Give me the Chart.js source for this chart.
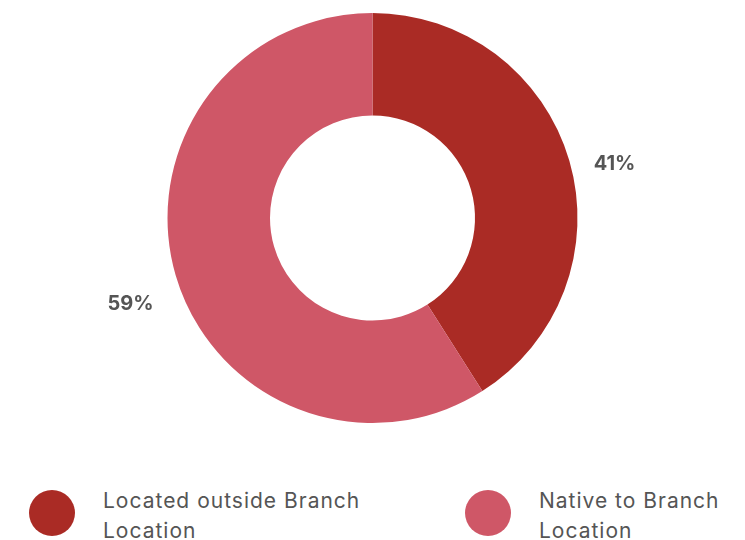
<!DOCTYPE html>
<html lang="en">
<head>
    <meta charset="UTF-8">
    <title>Branch Location</title>
    <script src="https://cdn.jsdelivr.net/npm/chart.js"></script>
    <style>
        body {
            margin: 0;
            width: 745px;
            height: 540px;
            background: #fff;
            font-family: Inter, sans-serif;
            position: relative;
            overflow: hidden;
        }
        #chartBox {
            position: absolute;
            left: 0;
            top: 0;
            width: 745px;
            height: 436px;
        }
        .legend-item {
            position: absolute;
            top: 488px;
            display: flex;
            align-items: flex-start;
        }
        .legend-dot {
            width: 46px;
            height: 46px;
            border-radius: 50%;
            margin-top: 2px;
        }
        .legend-text {
            color: #555;
            font-size: 21px;
            letter-spacing: 1px;
            line-height: 30px;
            margin-left: 28px;
            margin-top: -2px;
        }
    </style>
</head>
<body>
    <div id="chartBox"><canvas id="pieChart"></canvas></div>
    <div id="legend"></div>

    <script>
        const categories = ['Located outside Branch Location', 'Native to Branch Location'];
        const legendLines = [['Located outside Branch', 'Location'], ['Native to Branch', 'Location']];
        const shares = [41, 59];
        const colors = ['#AA2B25', '#CF5767'];
        const legendX = [29, 465];

        // percent labels outside each slice
        const outsideLabels = {
            id: 'outsideLabels',
            afterDatasetsDraw(chart) {
                const ctx = chart.ctx;
                const meta = chart.getDatasetMeta(0);
                ctx.save();
                ctx.font = 'bold 20px Inter, sans-serif';
                ctx.fillStyle = '#555';
                ctx.textAlign = 'center';
                ctx.textBaseline = 'middle';
                meta.data.forEach((arc, i) => {
                    const p = arc.getProps(['x', 'y', 'startAngle', 'endAngle', 'outerRadius'], true);
                    const mid = (p.startAngle + p.endAngle) / 2;
                    const r = p.outerRadius + 47;
                    ctx.fillText(shares[i] + '%', p.x + Math.cos(mid) * r, p.y + Math.sin(mid) * r + 16);
                });
                ctx.restore();
            }
        };

        new Chart(document.getElementById('pieChart').getContext('2d'), {
            type: 'doughnut',
            data: {
                labels: categories,
                datasets: [{ data: shares, backgroundColor: colors, borderWidth: 0 }]
            },
            options: {
                responsive: true,
                maintainAspectRatio: false,
                animation: false,
                cutout: '50%',
                layout: { padding: { top: 13, bottom: 13 } },
                plugins: { legend: { display: false }, tooltip: { enabled: false } }
            },
            plugins: [outsideLabels]
        });

        const legend = document.getElementById('legend');
        categories.forEach((c, i) => {
            const item = document.createElement('div');
            item.className = 'legend-item';
            item.style.left = legendX[i] + 'px';
            item.innerHTML = '<div class="legend-dot" style="background:' + colors[i] + '"></div>' +
                '<div class="legend-text">' + legendLines[i].join('<br>') + '</div>';
            legend.appendChild(item);
        });
    </script>
</body>
</html>
